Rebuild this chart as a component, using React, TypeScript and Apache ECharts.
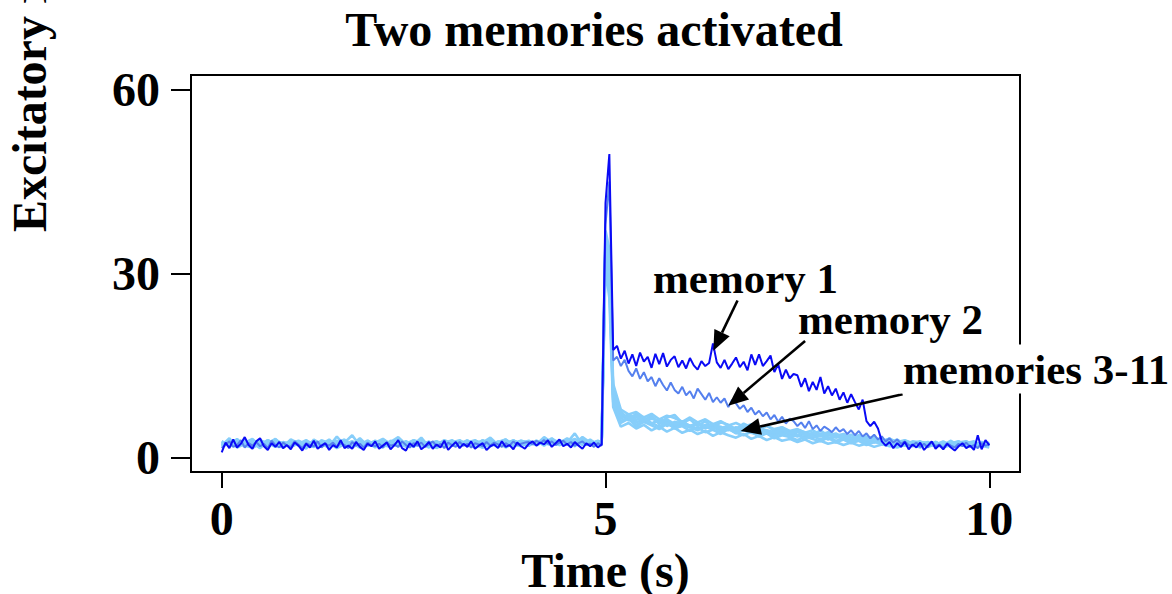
import React, { useEffect, useRef } from "react";
import * as echarts from "echarts";

const FONT = '"Liberation Serif", "Times New Roman", Times, serif';

// Sampling of the traces (s)
const FINE_STEP = 0.05;
const timeFine = Array.from({ length: 201 }, (_, i) => +(i * FINE_STEP).toFixed(3));
// memories 3-11 are stored every 0.1 s, with extra samples around the stimulus at 5 s
const timeCoarse = [
  ...Array.from({ length: 50 }, (_, i) => +(i * 0.1).toFixed(3)),
  4.95, 5.0, 5.05,
  ...Array.from({ length: 50 }, (_, i) => +(5.1 + i * 0.1).toFixed(3)),
];

// Tick values
const xTicks = [0, 5, 10];
const yTicks = [0, 30, 60];

// memory 1, every 0.05 s from 0 to 10 s
const memory1 = [
  0.8, 2.4, 1.5, 2.9, 1.6, 2.2, 3.3, 2.0, 1.4, 2.6,
  3.1, 1.8, 1.2, 2.3, 1.7, 2.5, 1.5, 2.0, 1.3, 2.4,
  1.9, 1.1, 2.2, 1.6, 2.7, 1.4, 1.9, 2.3, 1.2, 2.0,
  1.6, 2.8, 1.5, 1.9, 1.4, 2.5, 1.7, 1.2, 2.2, 1.8,
  2.6, 1.4, 1.9, 2.4, 1.3, 2.0, 2.8, 1.5, 1.1, 2.3,
  1.7, 2.6, 1.3, 1.8, 2.5, 1.4, 2.1, 1.6, 2.7, 1.2,
  1.9, 2.5, 1.5, 2.2, 1.7, 2.6, 1.4, 1.9, 2.3, 1.2,
  1.8, 2.1, 1.5, 2.6, 1.7, 2.0, 1.3, 2.4, 1.8, 1.4,
  2.2, 2.6, 1.9, 2.4, 2.1, 2.8, 1.7, 2.3, 2.9, 1.8,
  2.2, 1.6, 2.5, 1.9, 1.4, 2.3, 1.8, 2.4, 1.6, 2.1,
  41.5, 49.5, 17.5, 18.2, 16.1, 17.4, 15.3, 16.8, 14.9, 17.1,
  15.6, 16.4, 14.6, 16.9, 15.2, 17.0, 14.8, 15.9, 16.5, 14.7,
  15.8, 14.5, 16.2, 15.0, 14.3, 15.7, 14.9, 15.4, 18.6, 15.5,
  14.6, 15.9, 14.4, 15.3, 16.3, 14.7, 15.6, 14.2, 16.8, 15.1,
  16.8, 14.9, 15.7, 16.6, 13.9, 15.2, 12.8, 14.3, 12.9, 13.6,
  13.4, 11.5, 12.9, 10.8, 12.3, 11.0, 13.1, 10.4, 11.6, 10.1,
  11.2, 9.4, 10.6, 8.9, 10.3, 9.0, 7.8, 9.4, 5.9, 5.1,
  5.8, 4.7, 2.6, 1.9, 2.5, 1.5, 2.3, 1.7, 2.5, 1.3,
  2.1, 1.6, 2.4, 1.2, 1.9, 2.6, 1.4, 2.0, 1.3, 2.2,
  1.6, 1.1, 1.8, 2.3, 1.5, 1.9, 1.2, 3.6, 1.3, 2.8,
  2.0,
];

// memory 2, every 0.05 s
const memory2 = [
  1.5, 2.1, 2.6, 1.7, 2.0, 2.8, 1.6, 2.3, 1.9, 2.5,
  1.8, 2.2, 1.5, 2.7, 2.0, 1.6, 2.4, 1.9, 1.7, 2.6,
  2.1, 1.5, 2.3, 2.0, 1.8, 2.6, 1.6, 2.2, 1.9, 2.4,
  1.7, 2.3, 2.0, 1.5, 2.5, 1.9, 2.2, 1.6, 2.4, 2.0,
  1.8, 2.2, 1.6, 2.5, 1.9, 2.1, 1.7, 2.6, 2.0, 1.6,
  2.3, 1.9, 2.4, 1.7, 2.1, 2.6, 1.8, 2.2, 1.5, 2.4,
  2.0, 1.7, 2.5, 1.9, 2.2, 1.6, 2.3, 2.1, 1.8, 2.5,
  1.9, 2.4, 2.1, 1.7, 2.3, 1.9, 2.6, 2.0, 2.2, 2.4,
  2.5, 2.1, 2.7, 2.3, 2.8, 2.2, 2.6, 2.0, 2.4, 2.7,
  2.1, 2.5, 1.9, 2.3, 2.6, 2.0, 2.2, 1.7, 2.3, 1.9,
  38.0, 45.0, 15.8, 16.4, 14.9, 15.9, 14.1, 13.2, 14.5, 12.8,
  13.9, 12.4, 13.1, 11.6, 12.9, 11.8, 10.9, 12.2, 11.0, 10.4,
  11.5, 10.1, 10.8, 9.6, 11.2, 10.3, 9.4, 10.5, 9.0, 9.8,
  8.9, 9.6, 8.2, 9.4, 8.8, 7.9, 8.5, 7.4, 8.1, 7.0,
  7.6, 6.7, 7.3, 6.2, 6.9, 5.8, 6.6, 5.5, 6.3, 5.9,
  5.1, 5.7, 4.8, 5.9, 4.6, 5.2, 4.3, 5.0, 4.6, 4.1,
  4.9, 4.2, 4.6, 3.8, 4.4, 3.6, 4.3, 3.4, 3.9, 3.1,
  3.7, 2.9, 3.4, 2.6, 3.1, 2.4, 2.9, 2.2, 2.6, 2.0,
  1.9, 2.4, 1.7, 2.2, 1.6, 2.5, 1.8, 2.1, 1.5, 2.3,
  1.9, 1.6, 2.2, 1.8, 2.4, 1.7, 2.0, 1.5, 2.3, 1.9,
  2.1,
];

// memories 3-11, on the timeCoarse grid
const memory3 = [
  1.9, 3.1, 1.6, 2.2, 2.4, 1.5, 2.8, 2.0, 1.7, 2.6,
  2.2, 1.4, 2.9, 2.1, 1.8, 3.4, 1.9, 2.3, 1.6, 2.7,
  2.0, 1.8, 2.5, 3.0, 1.7, 2.2, 1.9, 2.6, 1.5, 2.3,
  2.8, 1.9, 2.1, 1.6, 2.4, 3.2, 2.0, 1.8, 2.7, 2.2,
  1.9, 2.6, 2.3, 3.1, 2.0, 2.5, 1.8, 2.9, 2.2, 2.6,
  2.4, 36.0, 31.0, 11.0,
  7.5, 6.2, 7.1, 6.0, 6.8, 5.4, 6.5, 6.9, 5.6, 6.2,
  5.1, 5.9, 4.8, 5.7, 5.3, 4.6, 5.5, 4.9, 4.4, 5.2,
  4.3, 4.9, 3.8, 4.5, 4.1, 3.6, 4.4, 3.5, 3.9, 3.2,
  3.7, 2.9, 3.4, 3.0, 2.5, 3.1, 2.2, 2.7, 2.0, 2.5,
  1.8, 2.4, 2.0, 2.7, 1.9, 2.3, 2.6, 1.7, 2.2,
];
const memory4 = [
  2.6, 1.8, 2.1, 2.9, 1.5, 2.3, 1.9, 2.7, 2.2, 1.6,
  2.4, 2.0, 1.7, 2.8, 2.3, 1.5, 2.1, 2.6, 1.9, 2.4,
  1.6, 2.9, 2.2, 1.8, 2.5, 2.0, 3.2, 1.7, 2.1, 2.4,
  1.9, 2.3, 2.7, 2.0, 1.6, 2.2, 2.5, 2.9, 1.8, 2.3,
  2.7, 2.1, 2.4, 2.0, 2.8, 2.3, 2.6, 2.1, 2.9, 2.0,
  2.3, 33.0, 28.0, 9.0,
  5.6, 6.3, 5.0, 5.8, 5.2, 4.6, 5.5, 4.8, 5.1, 4.3,
  4.9, 4.1, 4.5, 3.8, 4.6, 4.0, 3.6, 4.2, 3.4, 3.9,
  3.1, 3.6, 3.3, 2.8, 3.4, 3.0, 2.6, 3.2, 2.4, 2.9,
  2.3, 2.7, 2.0, 2.5, 2.2, 1.8, 2.4, 1.9, 2.1, 1.6,
  2.3, 1.9, 2.5, 1.7, 2.2, 2.0, 1.6, 2.4, 1.9,
];
const memory5 = [
  2.2, 2.7, 1.9, 2.4, 3.0, 1.8, 2.1, 2.5, 1.7, 2.9,
  2.3, 1.8, 2.6, 2.2, 1.9, 2.4, 2.9, 1.6, 2.3, 2.1,
  2.7, 2.0, 1.7, 2.4, 2.2, 2.8, 1.9, 2.3, 2.6, 1.8,
  2.1, 2.6, 2.3, 1.9, 2.8, 2.2, 1.7, 2.5, 2.1, 2.7,
  2.4, 2.0, 2.9, 2.3, 2.1, 2.7, 2.4, 2.2, 2.5, 2.3,
  2.6, 35.0, 33.0, 10.8,
  6.9, 6.0, 6.6, 5.7, 6.3, 6.0, 5.1, 5.8, 5.5, 4.9,
  5.6, 4.7, 5.3, 5.0, 4.4, 4.9, 4.6, 4.1, 4.7, 4.2,
  3.9, 4.4, 3.6, 4.1, 3.8, 3.3, 3.9, 3.0, 3.5, 3.2,
  2.8, 3.3, 2.6, 3.0, 2.7, 2.3, 2.9, 2.1, 2.6, 2.4,
  2.0, 2.5, 1.8, 2.3, 2.1, 2.6, 1.9, 2.2, 2.0,
];
const memory6 = [
  1.7, 2.4, 2.8, 1.9, 1.6, 2.6, 2.1, 3.0, 1.8, 2.3,
  2.7, 2.1, 1.8, 2.5, 2.2, 1.7, 2.6, 2.0, 3.1, 1.9,
  2.3, 1.9, 2.7, 2.1, 1.8, 2.8, 2.4, 1.9, 1.6, 2.5,
  2.4, 2.8, 1.9, 2.2, 1.6, 2.6, 2.3, 2.9, 2.1, 1.8,
  2.5, 2.1, 3.3, 2.4, 2.7, 2.2, 2.0, 2.8, 2.2, 2.5,
  2.2, 34.0, 30.0, 9.8,
  6.4, 6.9, 5.7, 6.2, 5.4, 6.1, 5.6, 4.9, 5.5, 5.2,
  4.6, 5.3, 4.9, 4.4, 4.9, 4.2, 4.7, 4.5, 3.9, 4.4,
  3.7, 4.2, 3.8, 3.4, 3.9, 3.3, 3.6, 2.9, 3.4, 3.1,
  2.6, 3.1, 2.8, 2.4, 2.9, 2.2, 2.6, 2.3, 2.0, 2.5,
  2.2, 1.8, 2.4, 2.1, 2.6, 1.9, 2.3, 1.7, 2.4,
];
const memory7 = [
  2.4, 1.9, 2.6, 2.1, 2.8, 2.2, 1.7, 2.5, 2.0, 2.7,
  1.9, 2.6, 2.3, 1.7, 2.7, 2.1, 2.4, 3.6, 1.9, 2.2,
  2.6, 2.2, 1.9, 2.5, 2.3, 1.7, 2.7, 2.2, 2.4, 1.9,
  2.2, 1.8, 2.4, 2.8, 2.0, 2.3, 1.8, 2.2, 2.7, 2.1,
  1.9, 2.7, 2.3, 2.0, 2.6, 2.4, 3.9, 2.0, 2.3, 2.6,
  2.5, 37.0, 34.0, 12.0,
  7.8, 7.0, 7.4, 6.5, 7.1, 6.2, 6.8, 6.4, 5.8, 6.5,
  5.7, 6.2, 5.4, 5.9, 5.2, 5.6, 5.0, 5.4, 4.8, 5.1,
  4.6, 4.9, 4.3, 4.6, 4.0, 4.4, 3.7, 4.1, 3.5, 3.8,
  3.2, 3.6, 2.9, 3.3, 2.7, 3.0, 2.5, 2.8, 2.3, 2.6,
  2.1, 2.5, 1.9, 2.3, 2.6, 2.0, 2.4, 1.8, 2.3,
];
const memory8 = [
  2.0, 2.5, 1.7, 2.6, 2.2, 1.6, 2.4, 2.9, 2.1, 1.8,
  2.2, 2.8, 1.9, 2.3, 1.5, 2.5, 2.0, 2.4, 2.1, 2.7,
  2.0, 1.6, 2.5, 3.3, 2.1, 2.3, 1.8, 2.5, 2.0, 2.2,
  2.5, 2.0, 2.8, 1.7, 2.4, 1.9, 2.6, 1.6, 2.3, 2.7,
  2.2, 2.7, 1.9, 3.0, 2.4, 2.1, 2.5, 2.6, 2.0, 2.4,
  2.1, 31.0, 26.0, 8.2,
  5.0, 5.6, 4.7, 5.3, 4.4, 5.0, 4.2, 4.8, 4.0, 4.5,
  3.8, 4.3, 3.5, 4.1, 3.6, 3.2, 3.8, 3.0, 3.5, 2.8,
  3.3, 2.7, 3.0, 2.5, 2.9, 2.3, 2.7, 2.2, 2.5, 2.0,
  2.4, 1.9, 2.2, 1.7, 2.1, 1.9, 1.6, 2.0, 1.8, 2.2,
  1.7, 2.1, 1.6, 2.0, 2.3, 1.7, 2.1, 1.9, 1.6,
];
const memory9 = [
  2.6, 2.1, 2.4, 1.8, 2.5, 2.0, 2.8, 2.2, 1.6, 2.3,
  2.0, 2.4, 1.7, 2.6, 2.2, 1.9, 2.5, 2.1, 2.8, 1.9,
  2.4, 3.0, 2.1, 1.9, 2.6, 2.0, 2.3, 1.6, 2.6, 2.2,
  1.9, 2.6, 2.2, 2.4, 1.9, 2.9, 2.1, 2.5, 1.8, 2.3,
  2.6, 2.0, 2.5, 2.8, 2.3, 3.1, 2.4, 2.2, 2.7, 2.1,
  2.7, 35.5, 32.0, 10.2,
  6.3, 7.0, 6.1, 6.6, 5.5, 6.2, 5.8, 5.2, 5.9, 5.0,
  5.4, 4.8, 5.3, 4.6, 5.1, 4.5, 4.8, 4.2, 4.6, 4.0,
  4.3, 3.8, 4.2, 3.5, 3.9, 3.4, 3.7, 3.1, 3.5, 3.0,
  3.1, 2.7, 3.0, 2.5, 2.8, 2.3, 2.6, 2.1, 2.4, 2.2,
  2.5, 2.0, 2.3, 1.8, 2.4, 2.6, 2.1, 1.9, 2.4,
];
const memory10 = [
  1.8, 2.2, 2.7, 2.1, 1.9, 2.8, 2.3, 1.7, 2.5, 2.2,
  2.5, 2.0, 2.3, 2.1, 2.9, 1.7, 2.2, 2.6, 1.8, 2.4,
  2.2, 2.6, 1.8, 2.3, 2.5, 2.1, 2.9, 1.9, 2.2, 2.6,
  2.0, 2.4, 2.1, 2.7, 2.3, 1.8, 2.5, 2.2, 2.8, 2.0,
  2.4, 2.3, 2.8, 2.1, 2.6, 2.5, 2.2, 3.3, 2.4, 2.3,
  2.3, 33.0, 29.0, 9.4,
  5.9, 6.5, 5.3, 6.0, 5.6, 5.0, 5.7, 4.7, 5.2, 4.9,
  4.4, 5.0, 4.5, 4.1, 4.7, 3.9, 4.4, 4.0, 3.6, 4.1,
  3.5, 3.9, 3.3, 3.6, 3.1, 3.5, 2.9, 3.2, 2.7, 3.0,
  2.5, 2.9, 2.4, 2.6, 2.2, 2.5, 2.0, 2.4, 2.1, 1.9,
  2.3, 1.8, 2.2, 2.0, 2.5, 1.8, 2.1, 2.4, 1.9,
];
const memory11 = [
  2.3, 2.0, 3.0, 1.8, 2.2, 2.4, 1.9, 2.6, 2.3, 2.0,
  2.6, 2.1, 1.7, 2.4, 2.0, 2.7, 1.9, 2.3, 2.1, 2.5,
  1.8, 2.3, 2.4, 2.0, 2.6, 1.9, 2.1, 2.4, 2.0, 2.8,
  2.3, 2.0, 2.5, 2.2, 2.7, 2.1, 2.4, 1.9, 2.2, 2.5,
  2.1, 2.4, 2.2, 2.8, 2.0, 2.6, 3.0, 2.4, 2.1, 2.7,
  2.4, 34.5, 31.5, 10.6,
  7.1, 6.4, 6.8, 5.9, 6.5, 5.6, 6.2, 5.4, 5.9, 5.1,
  5.7, 5.0, 5.4, 4.7, 5.2, 4.5, 4.9, 4.3, 4.7, 4.4,
  4.1, 4.5, 3.9, 4.2, 3.6, 4.0, 3.4, 3.8, 3.2, 3.5,
  3.0, 3.3, 2.8, 3.1, 2.6, 2.9, 2.4, 2.7, 2.2, 2.5,
  2.3, 2.1, 2.6, 1.9, 2.4, 2.2, 1.8, 2.5, 2.1,
];

const otherMemories = [
  memory3, memory4, memory5, memory6, memory7,
  memory8, memory9, memory10, memory11,
];

// Annotation arrows in data units: tail -> head
const arrowSpecs = [
  { from: [6.72, 25.6], to: [6.405, 17.4] },
  { from: [7.6, 19.0], to: [6.6, 8.4] },
  { from: [8.87, 10.3], to: [6.76, 4.3] },
];

const pair = (times: number[], values: number[]) =>
  values.map((v, i) => [times[i], v]);

const axisText = {
  fontFamily: FONT,
  fontWeight: "bold" as const,
  fontSize: 48,
  color: "#000",
};

function buildOption(): echarts.EChartsOption {
  const lightSeries = otherMemories.map((vals, k) => ({
    name: `memory ${k + 3}`,
    type: "line" as const,
    data: pair(timeCoarse, vals),
    showSymbol: false,
    symbol: "none",
    silent: true,
    lineStyle: { color: "#87CEFA", width: 2.6 },
  }));
  return {
    animation: false,
    backgroundColor: "#fff",
    grid: {
      left: 191,
      right: 152,
      top: 75,
      bottom: 122,
      outerBoundsMode: "none",
      show: true,
      borderColor: "#000",
      borderWidth: 2,
      backgroundColor: "transparent",
    } as any,
    xAxis: {
      type: "value",
      min: -0.4,
      max: 10.4,
      axisLine: { show: false, onZero: false },
      splitLine: { show: false },
      axisTick: {
        show: true,
        customValues: xTicks,
        length: 16,
        lineStyle: { color: "#000", width: 2 },
      },
      axisLabel: { ...axisText, customValues: xTicks, margin: 22 },
      name: "Time (s)",
      nameLocation: "middle",
      nameGap: 73,
      nameTextStyle: { ...axisText, verticalAlign: "top", lineHeight: 40 },
    } as any,
    yAxis: {
      type: "value",
      min: -2.4,
      max: 62.4,
      axisLine: { show: false, onZero: false },
      splitLine: { show: false },
      axisTick: {
        show: true,
        customValues: yTicks,
        length: 20,
        lineStyle: { color: "#000", width: 2 },
      },
      axisLabel: { ...axisText, customValues: yTicks, margin: 31 },
    } as any,
    series: [
      ...lightSeries,
      {
        name: "memory 2",
        type: "line",
        data: pair(timeFine, memory2),
        showSymbol: false,
        symbol: "none",
        silent: true,
        lineStyle: { color: "#5580EE", width: 2 },
      },
      {
        name: "memory 1",
        type: "line",
        data: pair(timeFine, memory1),
        showSymbol: false,
        symbol: "none",
        silent: true,
        lineStyle: { color: "#0A0AF5", width: 2 },
      },
    ],
  };
}

function arrowGraphics(chart: echarts.ECharts) {
  const headLen = 20;
  const halfW = 8.5;
  const out: any[] = [];
  arrowSpecs.forEach((a) => {
    const p0 = chart.convertToPixel({ gridIndex: 0 }, a.from) as number[];
    const p1 = chart.convertToPixel({ gridIndex: 0 }, a.to) as number[];
    const dx = p1[0] - p0[0];
    const dy = p1[1] - p0[1];
    const len = Math.hypot(dx, dy);
    const ux = dx / len;
    const uy = dy / len;
    const bx = p1[0] - ux * headLen;
    const by = p1[1] - uy * headLen;
    out.push({
      type: "line",
      z: 50,
      silent: true,
      shape: { x1: p0[0], y1: p0[1], x2: bx, y2: by },
      style: { stroke: "#000", lineWidth: 2.6 },
    });
    out.push({
      type: "polygon",
      z: 50,
      silent: true,
      shape: {
        points: [
          [p1[0], p1[1]],
          [bx - uy * halfW, by + ux * halfW],
          [bx + uy * halfW, by - ux * halfW],
        ],
      },
      style: { fill: "#000" },
    });
  });
  return out;
}

const labelFont = {
  fontFamily: FONT,
  fontWeight: "bold" as const,
  fill: "#000",
};

function textGraphics() {
  return [
    {
      type: "text",
      z: 60,
      x: 594,
      y: 29,
      style: {
        ...labelFont,
        text: "Two memories activated",
        fontSize: 48,
        align: "center",
        verticalAlign: "middle",
      },
    },
    {
      type: "text",
      z: 60,
      x: 29,
      y: 232,
      rotation: Math.PI / 2,
      style: {
        ...labelFont,
        text: "Excitatory rate (Hz)",
        fontSize: 48,
        align: "left",
        verticalAlign: "middle",
      },
    },
    {
      type: "text",
      z: 60,
      x: 653,
      y: 278,
      style: {
        ...labelFont,
        text: "memory 1",
        fontSize: 43,
        align: "left",
        verticalAlign: "middle",
      },
    },
    {
      type: "text",
      z: 60,
      x: 798,
      y: 319,
      style: {
        ...labelFont,
        text: "memory 2",
        fontSize: 43,
        align: "left",
        verticalAlign: "middle",
      },
    },
    {
      type: "text",
      z: 100,
      x: 899,
      y: 369,
      style: {
        ...labelFont,
        text: "memories 3-11",
        fontSize: 43,
        align: "left",
        verticalAlign: "middle",
        backgroundColor: "#fff",
        padding: [3, 6, 3, 4],
      },
    },
  ];
}

export default function App() {
  const ref = useRef<HTMLDivElement>(null);
  useEffect(() => {
    const el = ref.current;
    if (!el) return;
    const chart = echarts.init(el, null, { renderer: "svg" });
    chart.setOption(buildOption());
    chart.setOption({ graphic: [...textGraphics(), ...arrowGraphics(chart)] });
    return () => chart.dispose();
  }, []);
  return (
    <div
      ref={ref}
      style={{
        position: "absolute",
        left: 0,
        top: 0,
        width: 1172,
        height: 594,
        background: "#fff",
      }}
    />
  );
}
